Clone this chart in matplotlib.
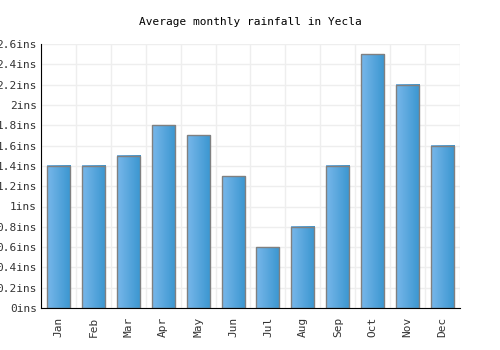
import matplotlib
matplotlib.use("Agg")
import matplotlib.pyplot as plt
import numpy as np
from matplotlib.colors import LinearSegmentedColormap

months = ["Jan", "Feb", "Mar", "Apr", "May", "Jun", "Jul", "Aug", "Sep", "Oct", "Nov", "Dec"]
rainfall = [1.4, 1.4, 1.5, 1.8, 1.7, 1.3, 0.6, 0.8, 1.4, 2.5, 2.2, 1.6]
yticks = [0, 0.2, 0.4, 0.6, 0.8, 1.0, 1.2, 1.4, 1.6, 1.8, 2.0, 2.2, 2.4, 2.6]

plt.rcParams["font.family"] = ["DejaVu Sans Mono"]

fig = plt.figure(figsize=(5, 3.5), dpi=100)
ax = fig.add_axes([0.082, 0.12, 0.838, 0.754])

x = np.arange(len(months))
bars = ax.bar(x, rainfall, width=0.66, color="none", edgecolor="#808080", linewidth=1.0, zorder=3)

cmap = LinearSegmentedColormap.from_list("blu", ["#78b7ea", "#3a96d0"])
grad = np.linspace(0, 1, 64).reshape(1, -1)
for b in bars:
    x0, y0 = b.get_x(), b.get_y()
    w, h = b.get_width(), b.get_height()
    ax.imshow(grad, cmap=cmap, extent=[x0, x0 + w, y0, y0 + h], aspect="auto", zorder=2)

ax.set_xlim(-0.5, len(months) - 0.5)
ax.set_ylim(0, 2.6)
ax.set_yticks(yticks)
ax.set_yticklabels([f"{v:g}ins" for v in yticks], fontsize=8, color="#333333")
ax.set_xticks(x)
ax.set_xticklabels(months, rotation=90, fontsize=8, color="#333333")
ax.set_xticks(np.arange(-0.5, len(months), 1), minor=True)
ax.tick_params(axis="x", which="both", length=0, pad=6)
ax.tick_params(axis="y", length=0, pad=3)
ax.grid(True, axis="y", color="#eeeeee", linewidth=1, zorder=0)
ax.grid(True, axis="x", which="minor", color="#eeeeee", linewidth=1, zorder=0)
ax.set_axisbelow(True)

for s in ["top", "right"]:
    ax.spines[s].set_visible(False)
ax.spines["left"].set_color("black")
ax.spines["bottom"].set_color("black")
ax.spines["left"].set_zorder(4)
ax.spines["bottom"].set_zorder(4)

fig.text(0.5, 0.937, "Average monthly rainfall in Yecla", ha="center", va="center", fontsize=8, color="black")

fig.savefig("out.png", dpi=100)
